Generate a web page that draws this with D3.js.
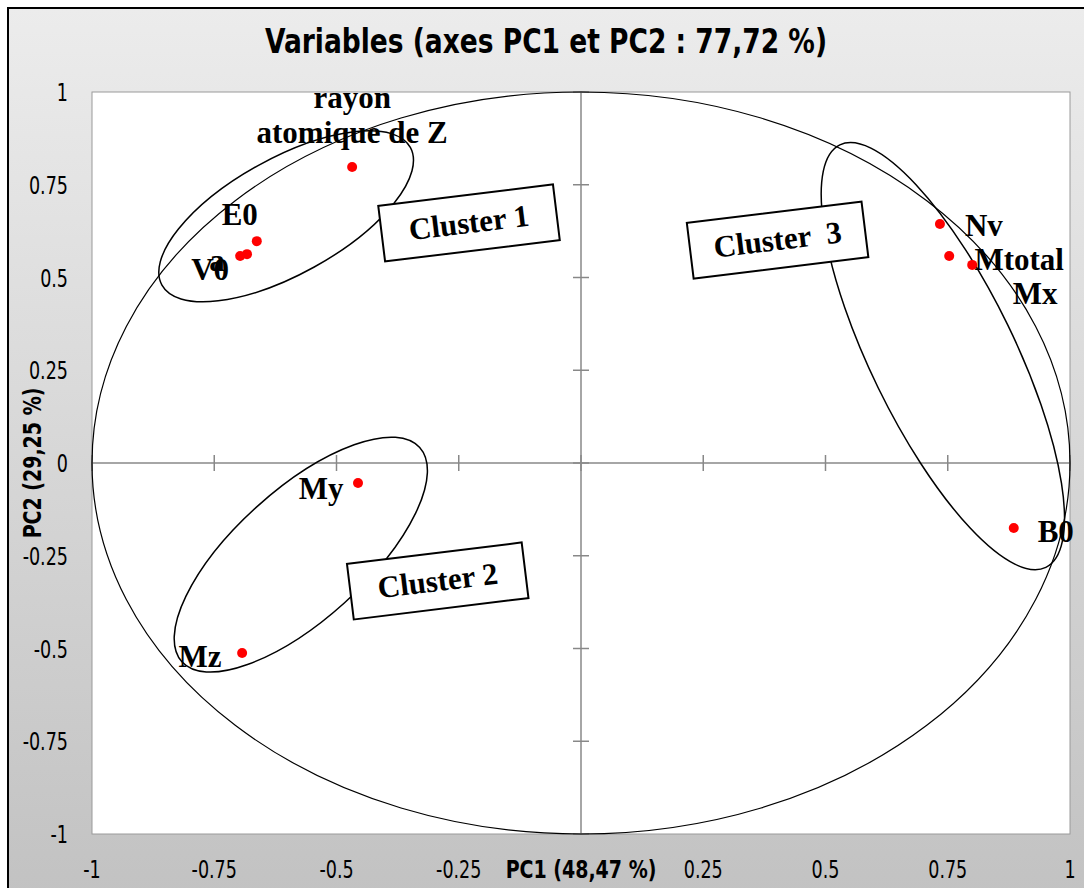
<!DOCTYPE html>
<html>
<head>
<meta charset="utf-8">
<script src="https://cdn.jsdelivr.net/npm/d3@7"></script>
<style>
  body { margin: 0; background: #fff; }
  .tick-label { font-family: "Liberation Sans Narrow", "DejaVu Sans Condensed", "Liberation Sans", sans-serif; font-size: 25px; fill: #000; }
  .pt-label { font-family: "Liberation Serif", "DejaVu Serif", serif; font-weight: bold; font-size: 31px; fill: #000; }
</style>
</head>
<body>
<div id="chart"></div>
<script>
const W = 1084, H = 888;

// variables (correlations with PC1 / PC2)
const names = ["rayon atomique de Z", "E0", "V0", "a", "Nv", "Mtotal", "Mx", "B0", "My", "Mz"];
const pc1 = [-0.468, -0.663, -0.697, -0.683, 0.734, 0.753, 0.800, 0.885, -0.456, -0.693];
const pc2 = [0.798, 0.598, 0.558, 0.563, 0.644, 0.558, 0.534, -0.175, -0.054, -0.512];

const ticks = [-1, -0.75, -0.5, -0.25, 0, 0.25, 0.5, 0.75, 1];
const xTickLabels = ["-1", "-0.75", "-0.5", "-0.25", "", "0.25", "0.5", "0.75", "1"];
const yTickLabels = ["-1", "-0.75", "-0.5", "-0.25", "0", "0.25", "0.5", "0.75", "1"];

// cluster ellipses: center (pc1, pc2), semi axes in px, rotation in deg
const clusters = ["Cluster 1", "Cluster 2", "Cluster  3"];
const clusterCx = [-0.603, -0.573, 0.740];
const clusterCy = [0.665, -0.247, 0.288];
const clusterA = [142, 160, 235];
const clusterB = [58, 65, 72];
const clusterRot = [-29, -42, 64];
// label boxes
const boxX = [-0.229, -0.293, 0.402];
const boxY = [0.647, -0.318, 0.601];

const x = d3.scaleLinear().domain([-1, 1]).range([92, 1070]);
const y = d3.scaleLinear().domain([-1, 1]).range([834, 92]);

const svg = d3.select("#chart").append("svg").attr("width", W).attr("height", H);

const defs = svg.append("defs");
const grad = defs.append("linearGradient").attr("id", "bg").attr("x1", 0).attr("y1", 0).attr("x2", 0).attr("y2", 1);
grad.append("stop").attr("offset", "0%").attr("stop-color", "#ececec");
grad.append("stop").attr("offset", "100%").attr("stop-color", "#c2c2c2");

svg.append("rect").attr("x", 8).attr("y", 8).attr("width", W).attr("height", H)
  .attr("fill", "url(#bg)").attr("stroke", "#000").attr("stroke-width", 2);

// plot area
svg.append("rect").attr("x", x(-1)).attr("y", y(1))
  .attr("width", x(1) - x(-1)).attr("height", y(-1) - y(1))
  .attr("fill", "#fff").attr("stroke", "#9a9a9a").attr("stroke-width", 1);

const narrow = "'Liberation Sans Narrow', 'DejaVu Sans Condensed', sans-serif";

// title
svg.append("text").attr("x", 546).attr("y", 53).attr("text-anchor", "middle")
  .attr("font-family", narrow).attr("font-weight", "bold").attr("font-size", 34)
  .attr("textLength", 562).attr("lengthAdjust", "spacingAndGlyphs")
  .text("Variables (axes PC1 et PC2 : 77,72 %)");

// axes through origin
const g = svg.append("g");
g.append("line").attr("x1", x(-1)).attr("x2", x(1)).attr("y1", y(0)).attr("y2", y(0))
  .attr("stroke", "#888").attr("stroke-width", 1.5);
g.append("line").attr("x1", x(0)).attr("x2", x(0)).attr("y1", y(1)).attr("y2", y(-1))
  .attr("stroke", "#888").attr("stroke-width", 1.5);
g.selectAll(".xt").data(ticks).join("line")
  .attr("x1", d => x(d)).attr("x2", d => x(d)).attr("y1", y(0) - 8).attr("y2", y(0) + 8)
  .attr("stroke", "#888").attr("stroke-width", 1.5);
g.selectAll(".yt").data(ticks).join("line")
  .attr("y1", d => y(d)).attr("y2", d => y(d)).attr("x1", x(0) - 8).attr("x2", x(0) + 8)
  .attr("stroke", "#888").attr("stroke-width", 1.5);

// tick labels (horizontally condensed)
svg.selectAll(".xl").data(ticks).join("text").attr("class", "tick-label")
  .attr("transform", d => `translate(${x(d)},878) scale(0.78,1)`).attr("text-anchor", "middle")
  .text((d, i) => xTickLabels[i]);
svg.selectAll(".yl").data(ticks).join("text").attr("class", "tick-label")
  .attr("transform", d => `translate(68,${y(d) + 9}) scale(0.78,1)`).attr("text-anchor", "end")
  .text((d, i) => yTickLabels[i]);

// axis titles
svg.append("text").attr("transform", `translate(${x(0)},878) scale(0.88,1)`).attr("text-anchor", "middle")
  .attr("font-family", narrow).attr("font-weight", "bold").attr("font-size", 24).text("PC1 (48,47 %)");
svg.append("text").attr("transform", `translate(41,${y(0)}) rotate(-90) scale(0.88,1)`).attr("text-anchor", "middle")
  .attr("font-family", narrow).attr("font-weight", "bold").attr("font-size", 24).text("PC2 (29,25 %)");

// correlation circle
svg.append("ellipse").attr("cx", x(0)).attr("cy", y(0))
  .attr("rx", x(1) - x(0)).attr("ry", y(0) - y(1))
  .attr("fill", "none").attr("stroke", "#000").attr("stroke-width", 1.2);

// cluster ellipses
svg.selectAll(".cl").data(clusters).join("ellipse")
  .attr("transform", (d, i) => `translate(${x(clusterCx[i])},${y(clusterCy[i])}) rotate(${clusterRot[i]})`)
  .attr("rx", (d, i) => clusterA[i]).attr("ry", (d, i) => clusterB[i])
  .attr("fill", "none").attr("stroke", "#000").attr("stroke-width", 1.5);

// points
svg.selectAll(".pt").data(names).join("circle")
  .attr("cx", (d, i) => x(pc1[i])).attr("cy", (d, i) => y(pc2[i]))
  .attr("r", 5).attr("fill", "#f00");

// point labels
const labelDx = [0, -17, -30, -30, 44, 70, 63, 42, -37, -42];
const labelDy = [-59, -16, 24, 17, 12, 14, 39, 14, 16, 14];
svg.selectAll(".pl").data(names).join("text").attr("class", "pt-label")
  .attr("text-anchor", "middle")
  .attr("x", (d, i) => x(pc1[i]) + labelDx[i]).attr("y", (d, i) => y(pc2[i]) + labelDy[i])
  .each(function (d, i) {
    if (i === 0) {
      const t = d3.select(this);
      t.append("tspan").attr("x", x(pc1[i])).attr("dy", 0).text("rayon");
      t.append("tspan").attr("x", x(pc1[i])).attr("dy", 35).text("atomique de Z");
    } else {
      d3.select(this).text(d);
    }
  });

// cluster boxes
const box = svg.selectAll(".box").data(clusters).join("g")
  .attr("transform", (d, i) => `translate(${x(boxX[i])},${y(boxY[i])}) rotate(-7)`);
box.append("rect").attr("x", -88).attr("y", -28).attr("width", 176).attr("height", 56)
  .attr("fill", "#fff").attr("stroke", "#000").attr("stroke-width", 2);
box.append("text").attr("class", "pt-label").attr("text-anchor", "middle").attr("y", 10)
  .attr("font-size", 29).attr("xml:space", "preserve").text(d => d);
</script>
</body>
</html>
